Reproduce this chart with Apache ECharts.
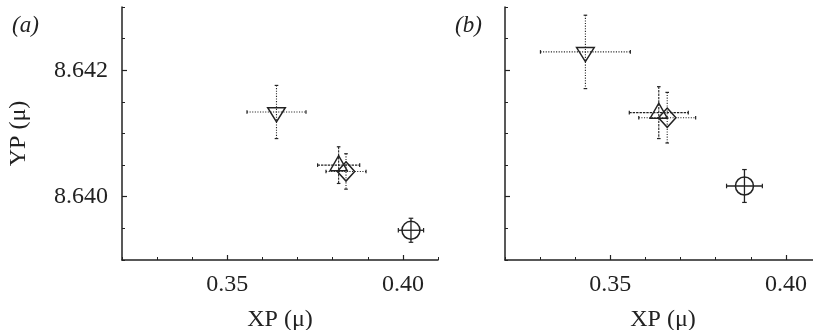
<!DOCTYPE html>
<html>
<head>
<meta charset="utf-8">
<script src="https://cdn.jsdelivr.net/npm/echarts@6/dist/echarts.min.js"></script>
<style>
html,body{margin:0;padding:0;background:#fff;}
#c{width:813px;height:330px;}
</style>
</head>
<body>
<div id="c"></div>
<script>
// ---- data ----
const markerTypes = ['downTriangle', 'upTriangle', 'diamond', 'circle'];
const panelLabels = ['(a)', '(b)'];
const xTickLabels = ['0.35', '0.40'];
const yTickLabels = ['8.640', '8.642'];
const xAxisTitle = 'XP (μ)';
const yAxisTitle = 'YP (μ)';

// panel (a)
const aX    = [0.3640, 0.3817, 0.3838, 0.4023];
const aY    = [8.64134, 8.64050, 8.64040, 8.63947];
const aXErr = [0.0084, 0.0060, 0.0057, 0.0036];
const aYErr = [0.00042, 0.00029, 0.00028, 0.00019];

// panel (b)
const bX    = [0.3429, 0.3638, 0.3662, 0.3882];
const bY    = [8.64229, 8.64133, 8.64125, 8.64017];
const bXErr = [0.0128, 0.0084, 0.0081, 0.0051];
const bYErr = [0.00058, 0.00041, 0.00040, 0.00026];

// ---- chart ----
const FONT = 'Liberation Serif';
const INK = '#222';
const xMajor = xTickLabels.map(Number);
const yMajor = yTickLabels.map(Number);
const isIn = (v, arr) => arr.some(m => Math.abs(m - v) < 1e-7);

const dashes = {
  downTriangle: [1.1, 1.5],
  upTriangle: [2.4, 1],
  diamond: [1.1, 1.5],
  circle: null
};

function shapeFor(type, c) {
  const x = c[0], y = c[1];
  const st = {stroke: INK, fill: 'none', lineWidth: 1.5};
  if (type === 'downTriangle') {
    return {type: 'polygon', shape: {points: [[x - 8.8, y - 4.3], [x + 8.8, y - 4.3], [x, y + 9.8]]}, style: st};
  }
  if (type === 'upTriangle') {
    return {type: 'polygon', shape: {points: [[x - 8.6, y + 5.5], [x + 8.6, y + 5.5], [x, y - 9.4]]}, style: st};
  }
  if (type === 'diamond') {
    return {type: 'polygon', shape: {points: [[x, y - 9.6], [x + 8.7, y], [x, y + 9.6], [x - 8.7, y]]}, style: st};
  }
  return {type: 'circle', shape: {cx: x, cy: y, r: 9}, style: st};
}

function makeRender(type) {
  return function (params, api) {
    const x = api.value(0), y = api.value(1), ex = api.value(2), ey = api.value(3);
    const c = api.coord([x, y]);
    const l = api.coord([x - ex, y]), r = api.coord([x + ex, y]);
    const t = api.coord([x, y + ey]), b = api.coord([x, y - ey]);
    const dash = dashes[type];
    const barStyle = {stroke: INK, lineWidth: dash ? 1.1 : 1.3, lineDash: dash || null};
    const capStyle = {stroke: INK, lineWidth: 1.2};
    const cap = dash ? 1.8 : 2.3;
    const children = [
      {type: 'line', shape: {x1: l[0], y1: l[1], x2: r[0], y2: r[1]}, style: barStyle},
      {type: 'line', shape: {x1: t[0], y1: t[1], x2: b[0], y2: b[1]}, style: barStyle},
      {type: 'line', shape: {x1: l[0], y1: l[1] - cap, x2: l[0], y2: l[1] + cap}, style: capStyle},
      {type: 'line', shape: {x1: r[0], y1: r[1] - cap, x2: r[0], y2: r[1] + cap}, style: capStyle},
      {type: 'line', shape: {x1: t[0] - cap, y1: t[1], x2: t[0] + cap, y2: t[1]}, style: capStyle},
      {type: 'line', shape: {x1: b[0] - cap, y1: b[1], x2: b[0] + cap, y2: b[1]}, style: capStyle},
      shapeFor(type, c)
    ];
    return {type: 'group', children: children};
  };
}

const grids = [
  {left: 122, top: 7, width: 316, height: 253, containLabel: false, outerBoundsMode: 'none'},
  {left: 505, top: 7, width: 316, height: 253, containLabel: false, outerBoundsMode: 'none'}
];

function xAxesFor(g) {
  return [
    {
      gridIndex: g, type: 'value', position: 'bottom', offset: 0,
      min: 0.32, max: 0.41, interval: 0.01,
      axisLine: {show: true, onZero: false, lineStyle: {color: INK, width: 1.5}},
      axisTick: {show: true, inside: true, length: 3, lineStyle: {color: INK, width: 1}},
      axisLabel: {
        margin: 13, fontFamily: FONT, fontSize: 24, color: INK,
        formatter: v => isIn(v, xMajor) ? v.toFixed(2) : ''
      },
      splitLine: {show: false},
      name: xAxisTitle, nameLocation: 'middle', nameGap: 48,
      nameTextStyle: {fontFamily: FONT, fontSize: 24, color: INK}
    },
    {
      gridIndex: g, type: 'value', position: 'bottom', offset: 0,
      min: 0.32, max: 0.41,
      axisLine: {show: false, onZero: false},
      axisTick: {show: true, inside: true, length: 5, customValues: xMajor, lineStyle: {color: INK, width: 1.2}},
      axisLabel: {show: false},
      splitLine: {show: false}
    }
  ];
}

function yAxesFor(g, withLabels) {
  const main = {
    gridIndex: g, type: 'value', position: 'left', offset: 0,
    min: 8.639, max: 8.643, interval: 0.0005,
    axisLine: {show: true, onZero: false, lineStyle: {color: INK, width: 1.5}},
    axisTick: {show: true, inside: true, length: 3, lineStyle: {color: INK, width: 1}},
    axisLabel: withLabels ? {
      margin: 14, fontFamily: FONT, fontSize: 24, color: INK,
      formatter: v => isIn(v, yMajor) ? v.toFixed(3) : ''
    } : {show: false},
    splitLine: {show: false}
  };
  if (withLabels) {
    main.name = yAxisTitle;
    main.nameLocation = 'middle';
    main.nameGap = 91;
    main.nameTextStyle = {fontFamily: FONT, fontSize: 24, color: INK};
  }
  return [
    main,
    {
      gridIndex: g, type: 'value', position: 'left', offset: 0,
      min: 8.639, max: 8.643,
      axisLine: {show: false, onZero: false},
      axisTick: {show: true, inside: true, length: 5, customValues: yMajor, lineStyle: {color: INK, width: 1.2}},
      axisLabel: {show: false},
      splitLine: {show: false}
    }
  ];
}

function panelSeries(xs, ys, xe, ye, axisIdx) {
  return markerTypes.map((type, i) => ({
    type: 'custom',
    name: type,
    xAxisIndex: axisIdx,
    yAxisIndex: axisIdx,
    renderItem: makeRender(type),
    encode: {x: 0, y: 1},
    data: [[xs[i], ys[i], xe[i], ye[i]]],
    silent: true,
    animation: false
  }));
}

const chart = echarts.init(document.getElementById('c'), null, {renderer: 'canvas'});
chart.setOption({
  animation: false,
  backgroundColor: '#fff',
  grid: grids,
  xAxis: [...xAxesFor(0), ...xAxesFor(1)],
  yAxis: [...yAxesFor(0, true), ...yAxesFor(1, false)],
  series: [
    ...panelSeries(aX, aY, aXErr, aYErr, 0),
    ...panelSeries(bX, bY, bXErr, bYErr, 2)
  ],
  graphic: [
    {type: 'text', x: 12, y: 26, style: {text: panelLabels[0], font: 'italic 23px "Liberation Serif"', fill: INK, verticalAlign: 'middle'}},
    {type: 'text', x: 455, y: 26, style: {text: panelLabels[1], font: 'italic 23px "Liberation Serif"', fill: INK, verticalAlign: 'middle'}}
  ]
});
</script>
</body>
</html>
